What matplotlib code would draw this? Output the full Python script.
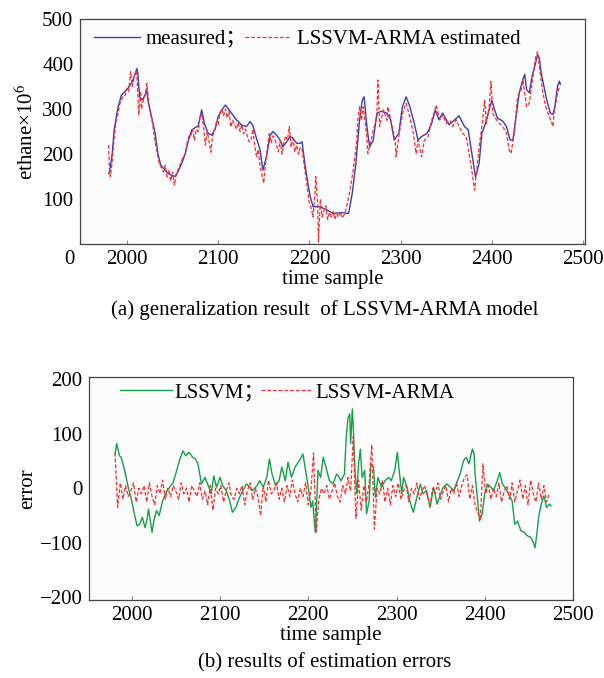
import numpy as np
import matplotlib
matplotlib.use("Agg")
import matplotlib.pyplot as plt

plt.rcParams['font.family'] = ['Liberation Serif', 'Noto Sans CJK SC']
plt.rcParams['mathtext.fontset'] = 'stix'

# (a) measured ethane
t_meas = [1980, 1981, 1984, 1986, 1990, 1994, 1998, 2001, 2005, 2008, 2011, 2012, 2014, 2017,
          2020, 2022, 2023, 2027, 2031, 2034, 2037, 2042, 2045, 2049, 2053, 2056, 2060, 2064,
          2067, 2071, 2075, 2078, 2082, 2085, 2089, 2093, 2097, 2100, 2104, 2108, 2111, 2115,
          2120, 2126, 2131, 2135, 2138, 2142, 2146, 2149, 2153, 2157, 2160, 2164, 2168, 2171,
          2175, 2179, 2182, 2186, 2190, 2192, 2195, 2199, 2201, 2204, 2212, 2219, 2226, 2235,
          2243, 2247, 2251, 2255, 2258, 2260, 2263, 2266, 2270, 2274, 2279, 2285, 2289, 2293,
          2298, 2302, 2306, 2310, 2315, 2319, 2323, 2329, 2334, 2338, 2342, 2346, 2353, 2359,
          2364, 2370, 2374, 2378, 2382, 2386, 2389, 2393, 2398, 2400, 2403, 2406, 2412, 2416,
          2420, 2423, 2426, 2430, 2434, 2436, 2438, 2441, 2444, 2448, 2450, 2452, 2454, 2457,
          2460, 2464, 2467, 2469, 2472, 2474, 2475]
measured = [157, 160, 201, 253, 301, 331, 339, 346, 357, 372, 390, 379, 327, 320,
            331, 342, 320, 283, 246, 201, 176, 164, 157, 153, 150, 161, 179, 201,
            227, 253, 259, 262, 298, 268, 246, 242, 257, 283, 298, 309, 301, 290,
            276, 264, 261, 272, 264, 235, 209, 164, 194, 242, 250, 242, 231, 216,
            227, 239, 235, 224, 224, 227, 179, 127, 105, 83, 83, 76, 68, 70,
            68, 113, 180, 276, 320, 327, 261, 216, 231, 291, 295, 291, 276, 231,
            246, 306, 327, 306, 268, 231, 239, 246, 268, 298, 276, 291, 265, 276,
            285, 261, 254, 202, 149, 179, 246, 268, 306, 320, 298, 280, 273, 261,
            231, 231, 276, 336, 366, 377, 343, 336, 373, 403, 421, 413, 380, 351,
            321, 291, 288, 306, 351, 362, 355]

# (a) LSSVM-ARMA estimate
t_est = [1980, 1981, 1982, 1984, 1986, 1988, 1990, 1992, 1994, 1996, 1998, 2000, 2002, 2004,
         2006, 2008, 2010, 2011, 2013, 2015, 2016, 2018, 2020, 2022, 2024, 2026, 2028, 2030,
         2032, 2034, 2036, 2038, 2040, 2042, 2044, 2046, 2048, 2050, 2052, 2054, 2056, 2058,
         2060, 2062, 2064, 2066, 2068, 2070, 2072, 2074, 2076, 2078, 2080, 2082, 2084, 2086,
         2088, 2090, 2092, 2094, 2096, 2098, 2100, 2102, 2104, 2106, 2108, 2110, 2112, 2114,
         2116, 2118, 2120, 2122, 2124, 2126, 2128, 2130, 2132, 2134, 2136, 2138, 2140, 2142,
         2144, 2146, 2148, 2150, 2152, 2154, 2156, 2158, 2160, 2162, 2164, 2166, 2168, 2170,
         2172, 2174, 2176, 2178, 2180, 2182, 2184, 2186, 2188, 2190, 2192, 2194, 2196, 2198,
         2200, 2202, 2204, 2206, 2207, 2209, 2210, 2212, 2214, 2216, 2218, 2220, 2222, 2224,
         2226, 2228, 2230, 2232, 2234, 2236, 2239, 2244, 2248, 2252, 2253, 2255, 2257, 2259,
         2263, 2264, 2266, 2270, 2274, 2275, 2277, 2281, 2285, 2286, 2290, 2294, 2295, 2299,
         2303, 2306, 2310, 2314, 2317, 2319, 2323, 2326, 2330, 2334, 2337, 2339, 2343, 2346,
         2350, 2354, 2357, 2361, 2364, 2368, 2372, 2375, 2379, 2381, 2383, 2386, 2390, 2392,
         2394, 2397, 2399, 2401, 2405, 2408, 2412, 2416, 2419, 2421, 2425, 2428, 2432, 2434,
         2438, 2441, 2445, 2448, 2450, 2452, 2456, 2459, 2463, 2467, 2468, 2472, 2474]
estimated = [220, 160, 150, 185, 235, 270, 285, 310, 320, 330, 330, 345, 338, 383,
             350, 370, 385, 375, 287, 340, 300, 320, 330, 357, 310, 290, 270, 240,
             215, 195, 175, 170, 160, 175, 150, 165, 140, 160, 131, 155, 165, 175,
             185, 195, 200, 225, 240, 240, 255, 231, 255, 250, 280, 290, 260, 220,
             250, 230, 204, 240, 250, 270, 265, 290, 300, 285, 300, 280, 295, 260,
             275, 265, 255, 270, 250, 265, 245, 255, 240, 227, 230, 255, 220, 195,
             210, 170, 155, 135, 180, 215, 245, 225, 240, 235, 220, 205, 230, 200,
             225, 240, 230, 261, 215, 235, 205, 220, 200, 215, 210, 180, 150, 120,
             90, 80, 60, 110, 150, 90, 5, 100, 60, 75, 85, 55, 70, 60,
             72, 55, 68, 60, 72, 58, 68, 113, 164, 231, 275, 305, 275, 305,
             238, 201, 216, 253, 283, 364, 261, 298, 275, 305, 268, 231, 194, 253,
             298, 313, 283, 246, 201, 231, 194, 231, 238, 275, 294, 309, 276, 287,
             268, 275, 261, 276, 261, 246, 238, 201, 150, 120, 157, 216, 276, 320,
             268, 305, 361, 290, 276, 268, 261, 246, 209, 201, 253, 327, 342, 364,
             305, 313, 372, 416, 427, 394, 335, 305, 283, 261, 290, 335, 350]

# (b) LSSVM error
t_err1 = [1981, 1983, 1986, 1988, 1992, 1996, 2000, 2003, 2006, 2009, 2012, 2015, 2017, 2019,
          2023, 2025, 2028, 2031, 2035, 2039, 2043, 2047, 2051, 2054, 2058, 2061, 2065, 2069,
          2072, 2075, 2079, 2083, 2086, 2090, 2093, 2096, 2100, 2103, 2107, 2111, 2114, 2118,
          2122, 2126, 2130, 2134, 2137, 2142, 2145, 2149, 2153, 2156, 2159, 2163, 2167, 2170,
          2174, 2177, 2181, 2185, 2190, 2194, 2197, 2200, 2203, 2205, 2208, 2209, 2211, 2214,
          2217, 2220, 2224, 2228, 2232, 2234, 2237, 2241, 2243, 2245, 2247, 2248, 2250, 2251,
          2253, 2255, 2257, 2259, 2261, 2264, 2266, 2269, 2271, 2274, 2276, 2279, 2283, 2287,
          2291, 2294, 2298, 2301, 2303, 2306, 2308, 2312, 2315, 2319, 2323, 2327, 2330, 2334,
          2338, 2342, 2346, 2350, 2353, 2357, 2361, 2365, 2369, 2372, 2376, 2379, 2382, 2386,
          2388, 2389, 2392, 2394, 2397, 2400, 2403, 2407, 2410, 2414, 2417, 2420, 2424, 2427,
          2431, 2434, 2437, 2441, 2445, 2448, 2452, 2455, 2457, 2459, 2461, 2464, 2467, 2470,
          2473, 2475]
err_lssvm = [63, 82, 60, 57, 33, 2, -23, -47, -69, -66, -53, -72, -60, -38,
             -81, -60, -41, -50, -23, -7, 2, 11, 33, 51, 69, 60, 66, 57,
             54, 45, 8, 20, 8, -10, 23, 2, 20, 5, -4, -23, -44, -35,
             -17, -4, 8, 2, -4, 5, 14, 2, 20, 54, 26, 5, 14, 39,
             14, 48, 20, 39, 51, 63, 33, 2, -35, -23, -81, -47, 33, 20,
             57, 39, 14, 8, 26, 23, 14, 26, 94, 128, 137, 82, 146, 112,
             33, -10, 45, 72, 20, 33, -47, -23, 45, 39, -17, 20, 2, 14,
             20, 14, 33, 66, 33, -10, 20, 2, -23, -44, -17, 8, -10, -4,
             -35, 2, -29, -10, 2, 8, 2, -4, 14, 26, 51, 57, 45, 72,
             63, 26, -23, -60, -47, -10, 8, 2, -4, 14, 29, 8, -1, -10,
             -23, -66, -60, -78, -81, -87, -90, -99, -109, -84, -53, -29, -14, -35,
             -29, -32]

# (b) LSSVM-ARMA error, every third sample from 1981
err_arma = [65, -35, 10, -20, 5, -15, -5, 10, -25, 0,
            -10, 5, -25, 10, -15, -30, 5, -10, 15, -20,
            0, -15, 5, -5, -20, 10, -10, 0, -25, 5,
            -5, -15, 10, -20, -5, -30, 5, -40, 0, -10,
            5, -25, -5, 10, -15, -20, 0, -10, 5, -30,
            -5, 10, -20, 0, -15, -50, 5, -25, 15, -10,
            -5, 10, -20, 0, -25, 5, -15, 15, -10, -25,
            0, -15, 10, -30, -5, 65, -80, -20, 0, -10,
            5, -20, -5, 10, -15, -25, 5, -10, 20, -5,
            95, -55, 15, -40, 5, -25, 10, 80, -75, 0,
            -10, 15, -25, 0, -30, 5, -15, 10, -20, -5,
            5, -25, 0, -10, 10, -20, -5, 5, -15, -30,
            0, -10, 10, -20, -5, 5, -25, 0, -10, 10,
            -15, 5, 20, 25, -20, 5, -30, -45, -55, 45,
            -10, 5, -20, 0, -15, 10, -25, -5, 5, -20,
            10, -25, -5, 15, -20, 5, -30, 15, -10, -25,
            10, -20, 5, -25, -10]
t_err2 = np.arange(1981, 2476, 3)

blue = '#3c3cb4'
red = '#ff2a2a'
green = '#14a04a'
dash = (0, (3, 1.6))
fs = 15

fig = plt.figure(figsize=(6.04, 6.78), dpi=100)
fig.patch.set_facecolor('white')

# ---- (a)
ax1 = fig.add_axes([0.133, 0.640, 0.8355, 0.332])
ax1.plot(t_meas, measured, color=blue, lw=1.0, label='measured；')
ax1.plot(t_est, estimated, color=red, lw=0.9, linestyle=dash, label='LSSVM-ARMA estimated')
ax1.set_xlim(1949, 2502)
ax1.set_ylim(0, 500)
ax1.set_xticks([2000, 2100, 2200, 2300, 2400, 2500])
ax1.set_yticks([100, 200, 300, 400, 500])
ax1.set_xlabel('time sample', fontsize=fs, labelpad=1)
ax1.set_ylabel('ethane×10$^{6}$', fontsize=fs, labelpad=3)
ax1.text(-0.022, -0.067, '0', transform=ax1.transAxes, ha='center', va='center', fontsize=fs)
ax1.legend(loc='center left', bbox_to_anchor=(0.027, 0.911), ncol=2, frameon=False,
           fontsize=fs, borderpad=0, borderaxespad=0, handlelength=2.2,
           handletextpad=0.3, columnspacing=-0.1)
fig.text(0.538, 1 - 310 / 678, '(a) generalization result  of LSSVM-ARMA model',
         ha='center', va='center', fontsize=fs)

# ---- (b)
ax2 = fig.add_axes([0.148, 0.115, 0.8007, 0.3295])
ax2.plot(t_err1, err_lssvm, color=green, lw=1.0, label='LSSVM；')
ax2.plot(t_err2, err_arma, color=red, lw=0.9, linestyle=dash, label='LSSVM-ARMA')
ax2.set_xlim(1952, 2500)
ax2.set_ylim(-205, 205)
ax2.set_xticks([2000, 2100, 2200, 2300, 2400, 2500])
ax2.set_yticks([-200, -100, 0, 100, 200])
ax2.set_yticklabels(['\u2212200', '\u2212100', '0', '100', '200'])
ax2.set_xlabel('time sample', fontsize=fs, labelpad=1)
ax2.set_ylabel('error', fontsize=fs, labelpad=2)
ax2.legend(loc='center left', bbox_to_anchor=(0.063, 0.927), ncol=2, frameon=False,
           fontsize=fs, borderpad=0, borderaxespad=0, handlelength=2.5,
           handletextpad=0.1, columnspacing=-0.15)
fig.text(0.538, 1 - 663 / 678, '(b) results of estimation errors',
         ha='center', va='center', fontsize=fs)

for ax in (ax1, ax2):
    ax.set_facecolor('#fcfcfc')
    for s in ax.spines.values():
        s.set_color('#444444')
        s.set_linewidth(0.9)
    ax.tick_params(axis='x', direction='in', length=3, color='#888888', pad=4, labelsize=fs)
    ax.tick_params(axis='y', length=0, pad=5, labelsize=fs)

fig.savefig('out.png', dpi=100)
